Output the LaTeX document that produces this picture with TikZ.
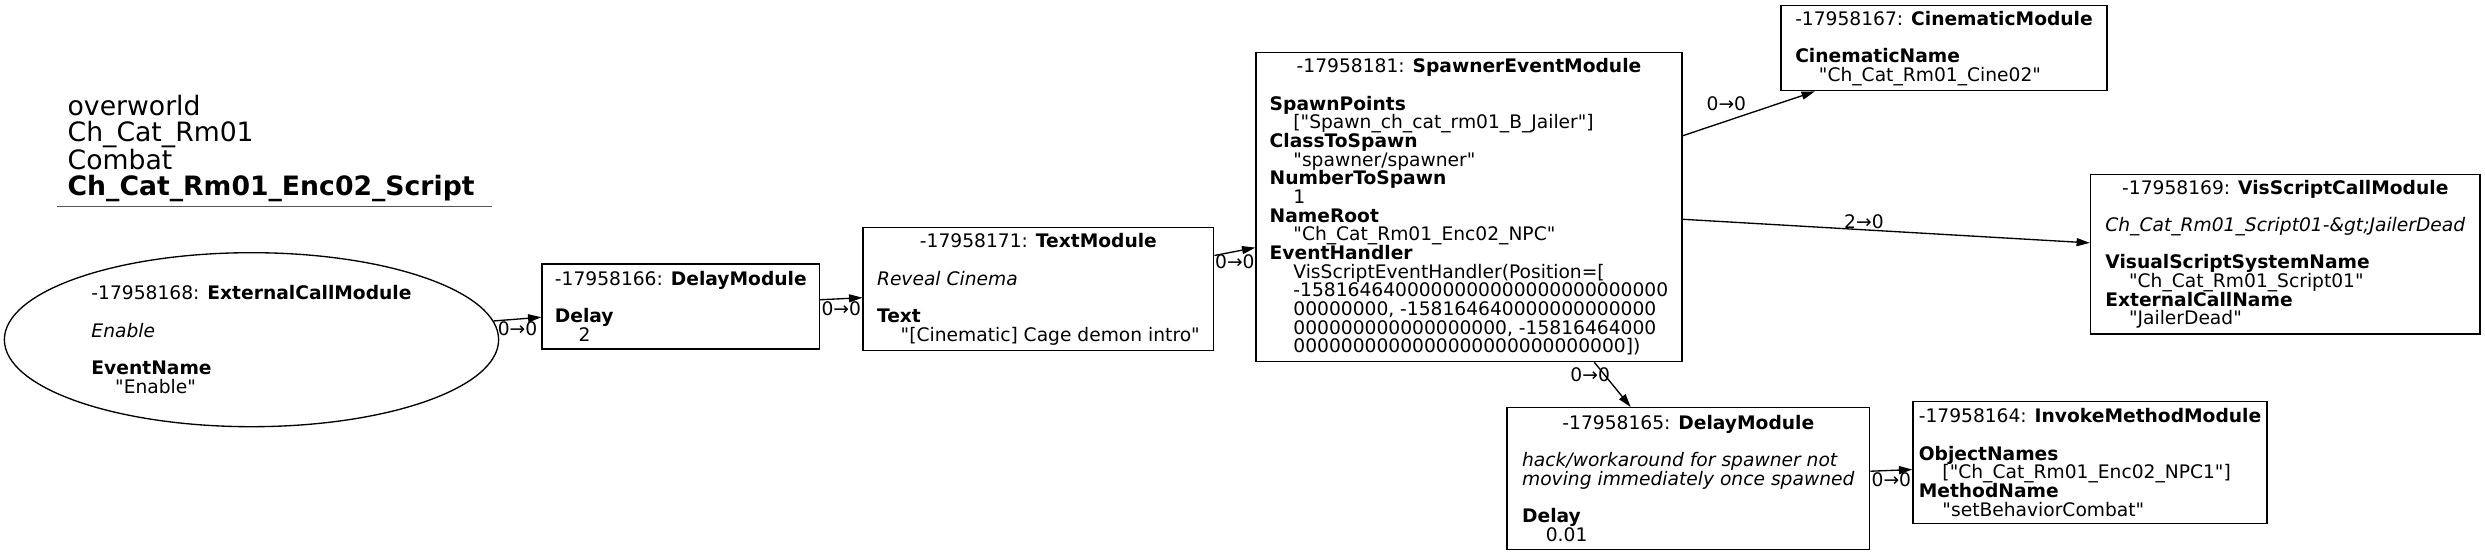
\documentclass[tikz,border=0pt]{standalone}
\usepackage{fontspec}
\setmainfont{DejaVu Sans}
\newfontfamily\gvfont{DejaVu Sans}
\usetikzlibrary{arrows.meta,shapes.geometric}

\newcommand{\valind}{\hspace*{1.27em}}
\newcommand{\ctitle}[1]{\omit\hfil#1\hfil}
\newcommand{\modlines}[1]{\vbox{\baselineskip=14pt\lineskiplimit=-100pt\lineskip=0pt\let\\\cr\halign{##\hfil\cr#1\crcr}}}

\tikzset{every picture/.style={line width=1pt}}
\tikzset{
  module/.style={draw, rectangle, inner sep=0pt, font=\gvfont\fontsize{14}{14}\selectfont},
  extcall/.style={draw, ellipse, inner sep=0pt, font=\gvfont\fontsize{14}{14}\selectfont},
  elabel/.style={font=\gvfont\fontsize{14}{14}\selectfont, inner sep=1.5pt},
  link/.style={-{Triangle[length=10pt,width=6pt]}},
}

\begin{document}
\begin{tikzpicture}[x=0.75pt,y=0.75pt,yscale=-1,xscale=1]
        \useasboundingbox (0,0) rectangle (2485,555);

        % Text Node
        \draw (67,148.5) node [anchor=west][inner sep=0pt] [align=left,font=\gvfont\fontsize{20}{19.9}\selectfont] (title) {overworld\\Ch\_Cat\_Rm01\\Combat\\\textbf{Ch\_Cat\_Rm01\_Enc02\_Script}};
        %Straight Lines
        \draw [color={rgb,255:red,85;green,85;blue,85}]   (57,206.7) -- (492,206.7) ;

        %Shape: Ellipse
        \draw (251.5,339.7) node [extcall, minimum width=370.7pt, minimum height=130.5pt] (ext) {\modlines{
          -17958168: \textbf{ExternalCallModule}\\ \\
          \textit{Enable}\\ \\
          \textbf{EventName}\\
          \valind"Enable"}};

        %Shape: Rectangle
        \draw (680.8,306.5) node [module, minimum width=208.1pt, minimum height=63.8pt] (delayA) {\modlines{
          -17958166: \textbf{DelayModule}\\ \\
          \textbf{Delay}\\
          \valind 2}};

        %Shape: Rectangle
        \draw (1038.4,289.2) node [module, minimum width=263pt, minimum height=92.3pt] (text) {\modlines{
          \ctitle{-17958171: \textbf{TextModule}}\\ \\
          \textit{Reveal Cinema}\\ \\
          \textbf{Text}\\
          \valind"[Cinematic] Cage demon intro"}};

        %Shape: Rectangle
        \draw (1469,207) node [module, minimum width=319.5pt, minimum height=232pt] (spawner) {\modlines{
          \ctitle{-17958181: \textbf{SpawnerEventModule}}\\ \\
          \textbf{SpawnPoints}\\
          \valind["Spawn\_ch\_cat\_rm01\_B\_Jailer"]\\
          \textbf{ClassToSpawn}\\
          \valind"spawner/spawner"\\
          \textbf{NumberToSpawn}\\
          \valind 1\\
          \textbf{NameRoot}\\
          \valind"Ch\_Cat\_Rm01\_Enc02\_NPC"\\
          \textbf{EventHandler}\\
          \valind VisScriptEventHandler(Position=[\\
          \valind -1581646400000000000000000000000\\
          \valind 00000000, -158164640000000000000\\
          \valind 000000000000000000, -15816464000\\
          \valind 0000000000000000000000000000])}};

        %Shape: Rectangle
        \draw (1944,48.2) node [module, minimum width=244.5pt, minimum height=63.8pt] (cinema) {\modlines{
          -17958167: \textbf{CinematicModule}\\ \\
          \textbf{CinematicName}\\
          \valind"Ch\_Cat\_Rm01\_Cine02"}};

        %Shape: Rectangle
        \draw (2285.3,254.2) node [module, minimum width=292.1pt, minimum height=119.8pt] (viscall) {\modlines{
          \ctitle{-17958169: \textbf{VisScriptCallModule}}\\ \\
          \textit{Ch\_Cat\_Rm01\_Script01-\&gt;JailerDead}\\ \\
          \textbf{VisualScriptSystemName}\\
          \valind"Ch\_Cat\_Rm01\_Script01"\\
          \textbf{ExternalCallName}\\
          \valind"JailerDead"}};

        %Shape: Rectangle
        \draw (1688.3,478.5) node [module, minimum width=272pt, minimum height=106.2pt] (delayB) {\modlines{
          \ctitle{-17958165: \textbf{DelayModule}}\\ \\
          \textit{hack/workaround for spawner not}\\
          \textit{moving immediately once spawned}\\ \\
          \textbf{Delay}\\
          \valind 0.01}};

        %Shape: Rectangle
        \draw (2090,462.5) node [module, minimum width=265.5pt, minimum height=91.2pt] (invoke) {\modlines{
          -17958164: \textbf{InvokeMethodModule}\\ \\
          \textbf{ObjectNames}\\
          \valind["Ch\_Cat\_Rm01\_Enc02\_NPC1"]\\
          \textbf{MethodName}\\
          \valind"setBehaviorCombat"}};

        %Straight Lines
        \draw [link] (ext) -- node [elabel, midway, below] {0→0} (delayA) ;
        %Straight Lines
        \draw [link] (delayA) -- node [elabel, midway, below] {0→0} (text) ;
        %Straight Lines
        \draw [link] (text) -- node [elabel, midway, below] {0→0} (spawner) ;
        %Straight Lines
        \draw [link] (spawner) -- node [elabel, midway, above left] {0→0} (cinema) ;
        %Straight Lines
        \draw [link] (spawner) -- node [elabel, midway, above left] {2→0} (viscall) ;
        %Straight Lines
        \draw [link] (spawner) -- node [elabel, midway, above left] {0→0} (delayB) ;
        %Straight Lines
        \draw [link] (delayB) -- node [elabel, midway, below] {0→0} (invoke) ;
\end{tikzpicture}
\end{document}
